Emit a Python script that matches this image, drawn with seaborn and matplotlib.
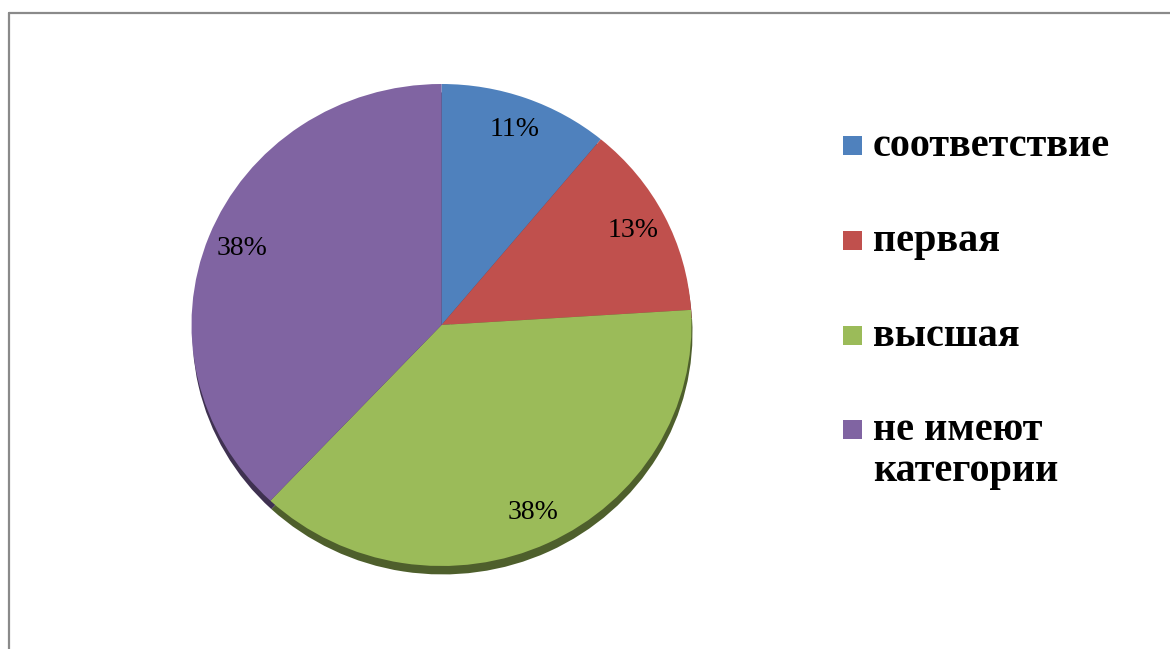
"""
Pie chart of staff categories (соответствие / первая / высшая / не имеют категории).
"""

import numpy as np
import seaborn as sns
import matplotlib.pyplot as plt
from matplotlib.lines import Line2D
from matplotlib.patches import Rectangle

categories = ["соответствие", "первая", "высшая", "не имеют\nкатегории"]
shares = [11, 13, 38, 38]
colors = ["#4F81BD", "#C0504D", "#9BBB59", "#8064A2"]
shadow_colors = ["#2F4D72", "#73302E", "#4E5F2C", "#3F3151"]

sns.set_theme(style="white")
plt.rcParams["font.family"] = ["Liberation Serif", "DejaVu Serif"]

W, H = 1170, 649
fig = plt.figure(figsize=(W / 100, H / 100), dpi=100)
ax = fig.add_axes([0, 0, 1, 1])

# pie centre and radii in pixels (the chart is drawn slightly squashed)
cx, cy, rx, ry = 441.5, 325, 250, 241

# darker copy underneath to fake the 3D rim
ax.pie(shares, colors=shadow_colors, startangle=90, counterclock=False,
       center=(0.004, -0.035), wedgeprops=dict(linewidth=0))
wedges, _, pct = ax.pie(
    shares, colors=colors, startangle=90, counterclock=False,
    autopct="%1.0f%%", pctdistance=0.86,
    wedgeprops=dict(linewidth=0),
    textprops=dict(fontsize=20, color="black"),
)
ax.set_aspect("auto")
ax.set_xlim(-cx / rx, (W - cx) / rx)
ax.set_ylim(-(H - cy) / ry, cy / ry)
ax.axis("off")

# grey frame (only top and left edges are visible)
fig.add_artist(Line2D([9 / W, 9 / W], [0, 1 - 13 / H], color="#8a8a8a", lw=1.6))
fig.add_artist(Line2D([9 / W, 1], [1 - 13 / H, 1 - 13 / H], color="#8a8a8a", lw=1.6))

# legend on the right
baselines = [156, 251, 346, 440]
for label, col, base in zip(categories, colors, baselines):
    fig.add_artist(Rectangle((843 / W, 1 - (base - 1) / H), 19 / W, 19 / H,
                             transform=fig.transFigure, color=col, lw=0))
    for i, line in enumerate(label.split("\n")):
        fig.text(873 / W, 1 - (base + i * 41) / H, line, fontsize=29,
                 fontweight="bold", ha="left", va="baseline", color="black")

fig.savefig("out.png", dpi=100)
